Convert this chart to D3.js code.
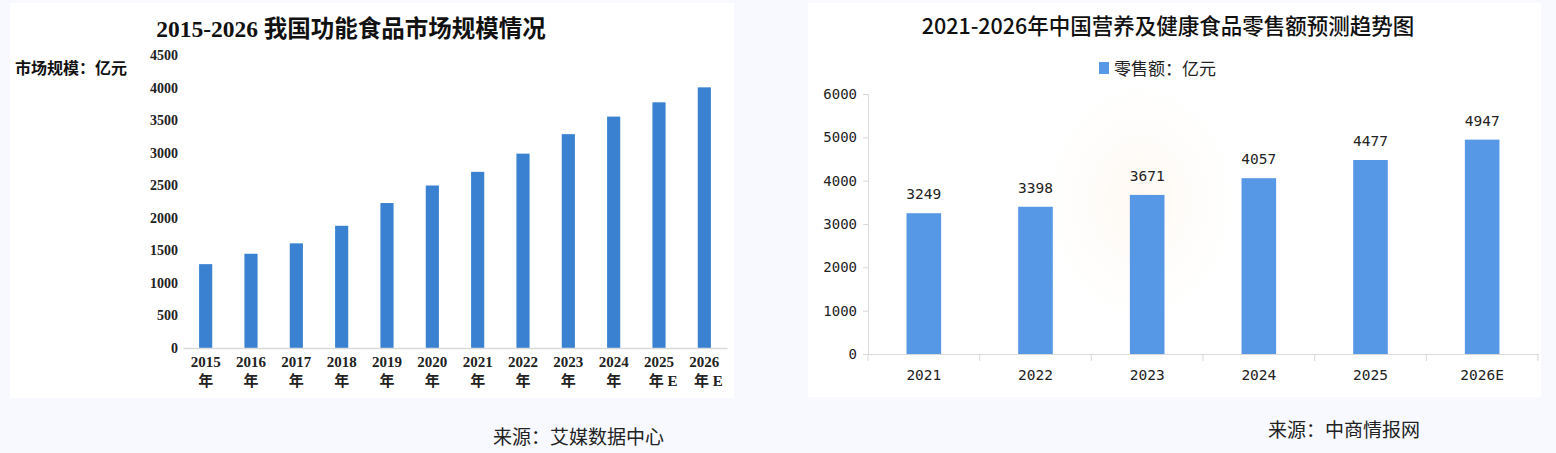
<!DOCTYPE html>
<html>
<head>
<meta charset="utf-8">
<script src="https://cdn.jsdelivr.net/npm/d3@7"></script>
<style>
  body { margin: 0; background: #f7f9fe; }
  svg { display: block; }
</style>
</head>
<body>
<svg width="1556" height="453"></svg>
<script>
// left chart data
const leftYears = ['2015', '2016', '2017', '2018', '2019', '2020', '2021', '2022', '2023', '2024', '2025', '2026'];
const leftSuffix = ['年', '年', '年', '年', '年', '年', '年', '年', '年', '年', '年 E', '年 E'];
const leftValues = [1290, 1450, 1610, 1880, 2230, 2500, 2710, 2990, 3290, 3560, 3780, 4010];
const leftTicks = [0, 500, 1000, 1500, 2000, 2500, 3000, 3500, 4000, 4500];

// right chart data
const rightYears = ['2021', '2022', '2023', '2024', '2025', '2026E'];
const rightValues = [3249, 3398, 3671, 4057, 4477, 4947];
const rightTicks = [0, 1000, 2000, 3000, 4000, 5000, 6000];

const svg = d3.select('svg');
const serifBold = '"Liberation Serif", "Noto Sans CJK SC", serif';
const cjk = '"Noto Sans CJK SC", sans-serif';
const mono = '"DejaVu Sans Mono", "Noto Sans CJK SC", monospace';

// panels
svg.append('rect').attr('x', 10).attr('y', 3).attr('width', 724).attr('height', 395).attr('fill', '#fff');
svg.append('rect').attr('x', 808).attr('y', 3).attr('width', 733).attr('height', 394).attr('fill', '#fff');

// faint decoration behind right chart
const defs = svg.append('defs');
const rg = defs.append('radialGradient').attr('id', 'glow');
rg.append('stop').attr('offset', '0%').attr('stop-color', '#fdf3e8').attr('stop-opacity', 0.6);
rg.append('stop').attr('offset', '100%').attr('stop-color', '#fff').attr('stop-opacity', 0);
svg.append('ellipse').attr('cx', 1140).attr('cy', 200).attr('rx', 120).attr('ry', 150).attr('fill', 'url(#glow)');

// ---------- left chart ----------
const makeLeft = () => {
    const x = d3.scaleBand().domain(leftYears).range([183, 727])
        .paddingInner(0.71).paddingOuter(0.355);
    const y = d3.scaleLinear().domain([0, 4500]).range([348, 55.5]);

    svg.append('text')
        .attr('x', 351).attr('y', 37)
        .attr('text-anchor', 'middle')
        .style('font-family', serifBold).style('font-weight', 'bold').style('font-size', '23.5px')
        .attr('fill', '#111')
        .text('2015-2026 我国功能食品市场规模情况');

    svg.append('text')
        .attr('x', 15).attr('y', 74)
        .style('font-family', cjk).style('font-weight', 'bold').style('font-size', '16px')
        .attr('fill', '#111')
        .text('市场规模：亿元');

    const ya = svg.append('g').attr('transform', 'translate(183,0)')
        .call(d3.axisLeft(y).tickValues(leftTicks).tickFormat(d3.format('d')).tickSize(0).tickPadding(5));
    ya.select('.domain').remove();
    ya.selectAll('text')
        .style('font-family', serifBold).style('font-weight', 'bold').style('font-size', '14px')
        .attr('fill', '#222');

    svg.append('g').selectAll('rect')
        .data(leftValues)
        .enter().append('rect')
        .attr('x', (d, i) => x(leftYears[i]))
        .attr('y', d => y(d))
        .attr('width', x.bandwidth())
        .attr('height', d => y(0) - y(d))
        .attr('fill', '#3a82d1');

    const xa = svg.append('g').attr('transform', 'translate(0,348)')
        .call(d3.axisBottom(x).tickSize(0).tickPadding(0));
    xa.select('.domain').attr('stroke', '#d9d9d9').attr('stroke-width', 1.5);
    xa.selectAll('text').remove();
    xa.selectAll('.tick').append('text')
        .attr('text-anchor', 'middle')
        .style('font-family', serifBold).style('font-weight', 'bold').style('font-size', '15px')
        .attr('fill', '#222')
        .each(function (d, i) {
            const t = d3.select(this);
            t.append('tspan').attr('x', 0).attr('y', 19).text(d);
            t.append('tspan').attr('x', leftSuffix[i].length > 1 ? 4 : 0).attr('y', 38).text(leftSuffix[i]);
        });
};

// ---------- right chart ----------
const makeRight = () => {
    const x = d3.scaleBand().domain(rightYears).range([868, 1538])
        .paddingInner(0.69).paddingOuter(0.345);
    const y = d3.scaleLinear().domain([0, 6000]).range([354, 94]);

    svg.append('text')
        .attr('x', 1168).attr('y', 34)
        .attr('text-anchor', 'middle')
        .style('font-family', cjk).style('font-weight', '500').style('font-size', '21.5px')
        .attr('fill', '#111')
        .text('2021-2026年中国营养及健康食品零售额预测趋势图');

    // legend
    svg.append('rect').attr('x', 1099).attr('y', 62).attr('width', 10).attr('height', 12).attr('fill', '#5698e6');
    svg.append('text')
        .attr('x', 1114).attr('y', 75)
        .style('font-family', cjk).style('font-size', '17px')
        .attr('fill', '#222')
        .text('零售额：亿元');

    const ya = svg.append('g').attr('transform', 'translate(868,0)')
        .call(d3.axisLeft(y).tickValues(rightTicks).tickFormat(d3.format('d')).tickSize(5).tickPadding(6));
    ya.select('.domain').attr('stroke', '#d9d9d9');
    ya.selectAll('line').attr('stroke', '#d9d9d9');
    ya.selectAll('text')
        .style('font-family', mono).style('font-size', '14px')
        .attr('fill', '#222');

    svg.append('g').selectAll('rect')
        .data(rightValues)
        .enter().append('rect')
        .attr('x', (d, i) => x(rightYears[i]))
        .attr('y', d => y(d))
        .attr('width', x.bandwidth())
        .attr('height', d => y(0) - y(d))
        .attr('fill', '#5698e6');

    svg.append('g').selectAll('text')
        .data(rightValues)
        .enter().append('text')
        .attr('x', (d, i) => x(rightYears[i]) + x.bandwidth() / 2)
        .attr('y', d => y(d) - 14)
        .attr('text-anchor', 'middle')
        .style('font-family', mono).style('font-size', '14.5px')
        .attr('fill', '#222')
        .text(d => d);

    const xa = svg.append('g').attr('transform', 'translate(0,354)')
        .call(d3.axisBottom(x).tickSize(0).tickPadding(16));
    xa.select('.domain').attr('stroke', '#d9d9d9');
    xa.selectAll('text')
        .style('font-family', mono).style('font-size', '14.5px')
        .attr('fill', '#222');

    // ticks at category boundaries
    const bounds = d3.range(rightYears.length + 1).map(i => x.range()[0] + i * x.step());
    xa.selectAll('.bound').data(bounds).enter().append('line')
        .attr('class', 'bound')
        .attr('x1', d => d).attr('x2', d => d)
        .attr('y1', 0).attr('y2', 7)
        .attr('stroke', '#d9d9d9');
};

makeLeft();
makeRight();

// sources
svg.append('text').attr('x', 493).attr('y', 444)
    .style('font-family', cjk).style('font-size', '19px').attr('fill', '#222')
    .text('来源：艾媒数据中心');
svg.append('text').attr('x', 1268).attr('y', 437)
    .style('font-family', cjk).style('font-size', '19px').attr('fill', '#222')
    .text('来源：中商情报网');
</script>
</body>
</html>
